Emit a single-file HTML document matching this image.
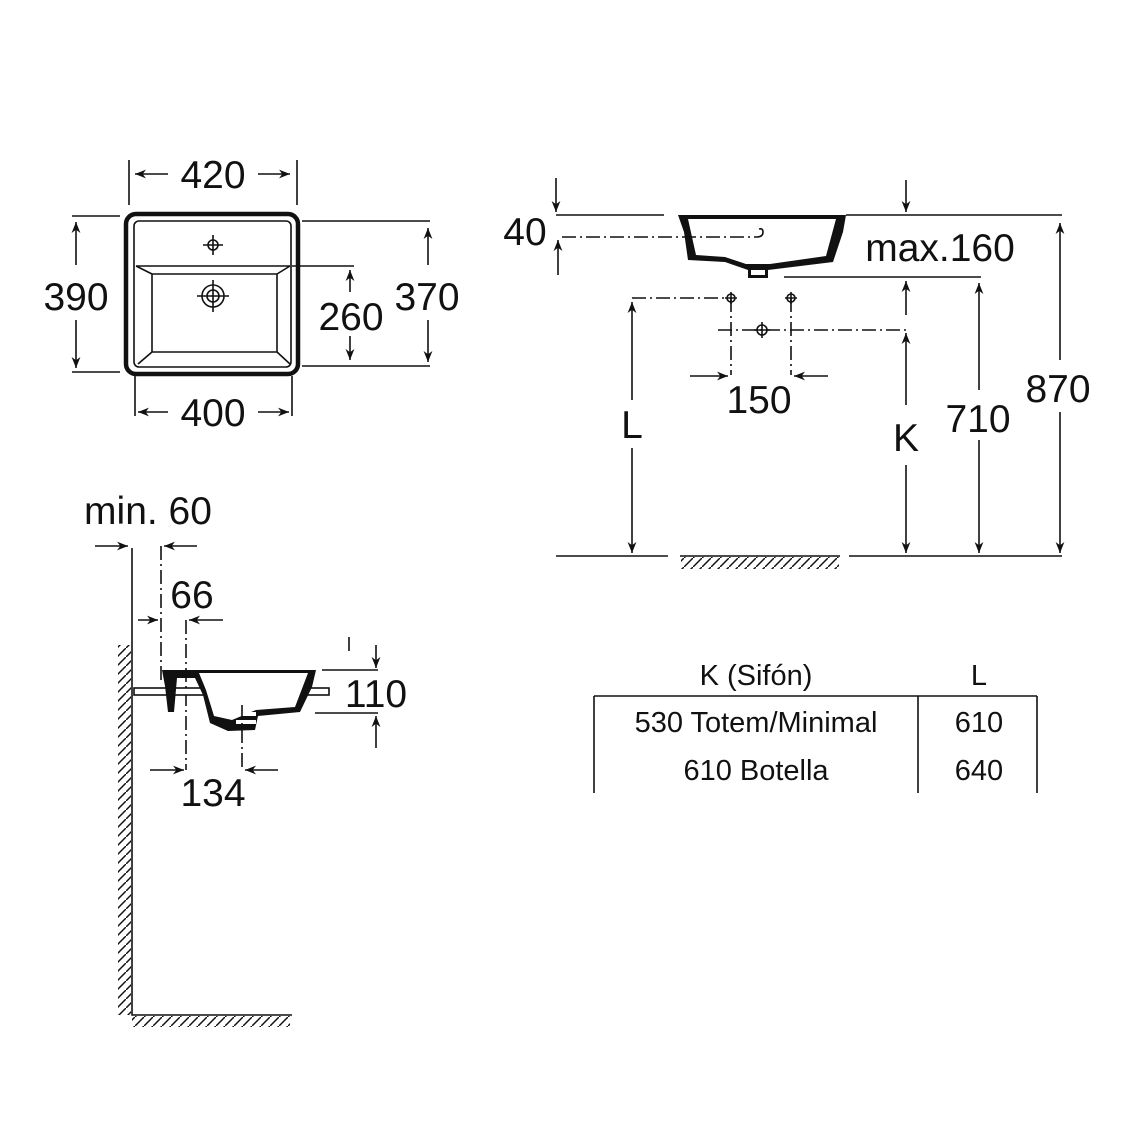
<!DOCTYPE html>
<html><head><style>body{margin:0;background:#fff}svg{display:block}text{font-family:"Liberation Sans",sans-serif;fill:#111}</style></head><body>
<svg width="1125" height="1125" viewBox="0 0 1125 1125" xmlns="http://www.w3.org/2000/svg">
<defs>
<marker id="a" viewBox="0 0 10 10" refX="10" refY="5" markerWidth="20" markerHeight="11" orient="auto" markerUnits="userSpaceOnUse"><path d="M0,1 L10,5 L0,9 L3,5z" fill="#111"/></marker>
<pattern id="h" width="9" height="9" patternUnits="userSpaceOnUse"><path d="M0,9 L9,0" stroke="#111" stroke-width="1.5"/></pattern>
</defs>
<g stroke="#111" fill="none" stroke-width="1.6">
<rect x="126" y="214" width="172" height="160" rx="10" stroke-width="4.5"/>
<rect x="134" y="221" width="157" height="146" rx="5"/>
<path d="M136,266 L290,266 M152,274 L277,274 L277,352 L152,352Z M136,266 L152,274 M290,266 L277,274 M152,352 L138,364 M277,352 L290,364"/>
<circle cx="213" cy="245" r="5"/><path d="M203,245h20M213,235v20"/>
<circle cx="213" cy="296" r="11"/><circle cx="213" cy="296" r="6"/><path d="M197,296h32M213,280v32"/>
<path d="M129,160v45M297,160v45"/>
<path d="M168,174H135" marker-end="url(#a)"/><path d="M258,174H290" marker-end="url(#a)"/>
<path d="M72,216h48M72,372h48"/>
<path d="M76,265V222" marker-end="url(#a)"/><path d="M76,320V368" marker-end="url(#a)"/>
<path d="M302,221h128M302,366h128"/>
<path d="M428,265V228" marker-end="url(#a)"/><path d="M428,320V362" marker-end="url(#a)"/>
<path d="M292,266h62"/>
<path d="M350,292V270" marker-end="url(#a)"/><path d="M350,336V360" marker-end="url(#a)"/>
<path d="M135,376v40M292,376v40"/>
<path d="M168,412H138" marker-end="url(#a)"/><path d="M258,412H289" marker-end="url(#a)"/>

<path d="M556,215H664M846,215H1062"/>
<path d="M678,215 L846,215 L843,232 L833,262 L768,270 L768,278 L748,278 L748,270 L725,262 L688,260 L684,232 Z" fill="#111" stroke="none"/>
<path d="M688,219 L836,219 L826,256 L770,264 L746,264 L725,257 L696,255 Z" fill="#fff" stroke="none"/>
<path d="M751,270h14v5h-14z" fill="#fff" stroke="none"/>
<path d="M562,237H757" stroke-dasharray="14,4,2,4"/><path d="M757,237 q6,0 6,-5 q0,-4 -4,-3" />
<path d="M556,178V212" marker-end="url(#a)"/><path d="M558,275V240" marker-end="url(#a)"/>
<path d="M906,180V212" marker-end="url(#a)"/>
<path d="M784,277H981"/>
<path d="M906,315V281" marker-end="url(#a)"/>
<path d="M632,298H725M718,330H906" stroke-dasharray="14,4,2,4"/>
<path d="M731,298V375M791,298V375" stroke-dasharray="14,4,2,4"/>
<circle cx="731" cy="298" r="4"/><path d="M725,298h12M731,292v12"/>
<circle cx="791" cy="298" r="4"/><path d="M785,298h12M791,292v12"/>
<circle cx="762" cy="330" r="5"/><path d="M754,330h16M762,322v16"/>
<path d="M690,376H728" marker-end="url(#a)"/><path d="M828,376H794" marker-end="url(#a)"/>
<path d="M632,400V302" marker-end="url(#a)"/><path d="M632,448V553" marker-end="url(#a)"/>
<path d="M906,405V333" marker-end="url(#a)"/><path d="M906,465V553" marker-end="url(#a)"/>
<path d="M979,390V283" marker-end="url(#a)"/><path d="M979,440V553" marker-end="url(#a)"/>
<path d="M1060,360V223" marker-end="url(#a)"/><path d="M1060,412V553" marker-end="url(#a)"/>
<path d="M556,556H668M680,556H840M849,556H1062"/>
<rect x="681" y="557" width="158" height="12" fill="url(#h)" stroke="none"/>

<path d="M132,548V1015H292"/>
<rect x="118" y="645" width="13" height="370" fill="url(#h)" stroke="none"/>
<rect x="132" y="1016" width="158" height="11" fill="url(#h)" stroke="none"/>
<path d="M95,546H128" marker-end="url(#a)"/><path d="M197,546H164" marker-end="url(#a)"/>
<path d="M161,546V680" stroke-dasharray="14,4,2,4"/>
<path d="M138,620H158" marker-end="url(#a)"/><path d="M223,620H189" marker-end="url(#a)"/>
<path d="M186,620V770" stroke-dasharray="14,4,2,4"/>
<rect x="134" y="688" width="195" height="7" fill="#fff"/>
<path d="M162,670 L316,670 L312,687 L300,712 L258,716 L255,730 L228,731 L210,723 L203,695 L195,678 L177,678 L174,712 L168,712 L165,686Z" fill="#111" stroke="none"/>
<path d="M172,673 L308,673 L295,707 L256,710 L232,720 L214,716 L206,690 L199,673 Z" fill="#fff" stroke="none"/>
<path d="M236,712h20v4h-20zM236,720h20v4h-20z" fill="#fff" stroke="none"/>
<path d="M322,670h56M315,713h63M349,637v14"/>
<path d="M376,645V668" marker-end="url(#a)"/><path d="M376,748V716" marker-end="url(#a)"/>
<path d="M242,705V770" stroke-dasharray="14,4,2,4"/>
<path d="M150,770H184" marker-end="url(#a)"/><path d="M278,770H245" marker-end="url(#a)"/>

<path d="M594,696H1037M594,696V793M918,696V793M1037,696V793"/>
</g>
<g font-size="39" text-anchor="middle">
<text x="213" y="188">420</text>
<text x="76" y="310">390</text>
<text x="427" y="310">370</text>
<text x="351" y="330">260</text>
<text x="213" y="426">400</text>
<text x="525" y="245">40</text>
<text x="940" y="261">max.160</text>
<text x="759" y="413">150</text>
<text x="632" y="438">L</text>
<text x="906" y="451">K</text>
<text x="978" y="432">710</text>
<text x="1058" y="402">870</text>
<text x="148" y="524">min. 60</text>
<text x="192" y="608">66</text>
<text x="376" y="707">110</text>
<text x="213" y="806">134</text>
</g>
<g font-size="29" text-anchor="middle">
<text x="756" y="685">K (Sifón)</text>
<text x="979" y="685">L</text>
<text x="756" y="732">530 Totem/Minimal</text>
<text x="979" y="732">610</text>
<text x="756" y="780">610 Botella</text>
<text x="979" y="780">640</text>
</g>
</svg>
</body></html>
